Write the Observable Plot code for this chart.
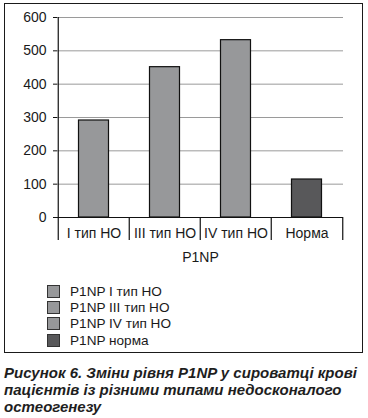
<!DOCTYPE html>
<html>
<head>
<meta charset="utf-8">
<script src="https://cdn.jsdelivr.net/npm/d3@7"></script>
<script src="https://cdn.jsdelivr.net/npm/@observablehq/plot@0.6"></script>
<style>
  html, body { margin: 0; padding: 0; background: #fff; }
  #wrap { position: relative; width: 368px; height: 418px; overflow: hidden; font-family: "Liberation Sans", Arial, sans-serif; color: #1a1a1a; }
  #frame { position: absolute; left: 4px; top: 3px; width: 357px; height: 348px; border: 1.5px solid #1a1a1a; }
  #chart { position: absolute; left: 0; top: 0; }
  #legend { position: absolute; left: 47px; top: 283px; font-size: 13.6px; }
  .row { display: flex; align-items: center; height: 16.4px; }
  .sw { width: 13px; height: 13px; border: 1px solid #333; box-sizing: border-box; margin-right: 10px; }
  #caption { position: absolute; left: 4px; top: 364px; width: 364px; font-size: 15px; font-weight: bold; font-style: italic; line-height: 17px; color: #1e1e1e; }
</style>
</head>
<body>
<div id="wrap">
  <div id="frame"></div>
  <div id="chart"></div>
  <div id="legend"></div>
  <div id="caption">Рисунок 6. Зміни рівня P1NP у сироватці крові пацієнтів із різними типами недосконалого остеогенезу</div>
</div>
<script>
const categories = ["I тип НО", "III тип НО", "IV тип НО", "Норма"];
const values = [291, 451, 532, 114];
const seriesNames = ["P1NP I тип НО", "P1NP III тип НО", "P1NP IV тип НО", "P1NP норма"];
const colors = ["#97989a", "#97989a", "#97989a", "#58585a"];
const yTicks = [0, 100, 200, 300, 400, 500, 600];
const axisTitle = "P1NP";

const data = categories.map((c, i) => ({cat: c, value: values[i], color: colors[i]}));

const W = 368, H = 270, mL = 57, mR = 25, mT = 17, mB = 53;
const bw = (W - mL - mR) / categories.length;

const chart = Plot.plot({
  width: W, height: H,
  marginLeft: mL, marginRight: mR, marginTop: mT, marginBottom: mB,
  style: {fontFamily: "Liberation Sans, Arial, sans-serif", color: "#1a1a1a", background: "transparent"},
  x: {domain: categories, padding: 0, label: null},
  y: {domain: [0, 600], ticks: yTicks, label: null},
  marks: [
    Plot.ruleY(yTicks.filter(t => t > 0), {stroke: "#9a9a9a", strokeWidth: 1}),
    Plot.barY(data, {x: "cat", y: "value", fill: "color", stroke: "#111", strokeWidth: 1.2, insetLeft: 20.5, insetRight: 20.5}),
    Plot.ruleY([0], {stroke: "#111", strokeWidth: 1.2}),
    Plot.ruleX([categories[0]], {x: d => d, dx: -bw / 2, stroke: "#111", strokeWidth: 1.2}),
    Plot.ruleX(categories, {x: d => d, y1: 0, y2: 0, dx: -bw / 2, insetTop: 0, insetBottom: -23, stroke: "#111", strokeWidth: 1.2}),
    Plot.ruleX([categories[categories.length - 1]], {x: d => d, y1: 0, y2: 0, dx: bw / 2, insetTop: 0, insetBottom: -23, stroke: "#111", strokeWidth: 1.2}),
    Plot.axisY({ticks: yTicks, tickSize: 4, tickPadding: 7, fontSize: 14, label: null, stroke: "#111"}),
    Plot.axisX({tickSize: 0, tickPadding: 11, fontSize: 14, label: null}),
    Plot.text([axisTitle], {frameAnchor: "bottom", dy: 44, fontSize: 14, fill: "#1a1a1a"})
  ]
});
document.getElementById("chart").appendChild(chart);

const legend = document.getElementById("legend");
seriesNames.forEach((name, i) => {
  const row = document.createElement("div");
  row.className = "row";
  const sw = document.createElement("div");
  sw.className = "sw";
  sw.style.background = colors[i];
  const t = document.createElement("span");
  t.textContent = name;
  row.appendChild(sw);
  row.appendChild(t);
  legend.appendChild(row);
});
</script>
</body>
</html>
